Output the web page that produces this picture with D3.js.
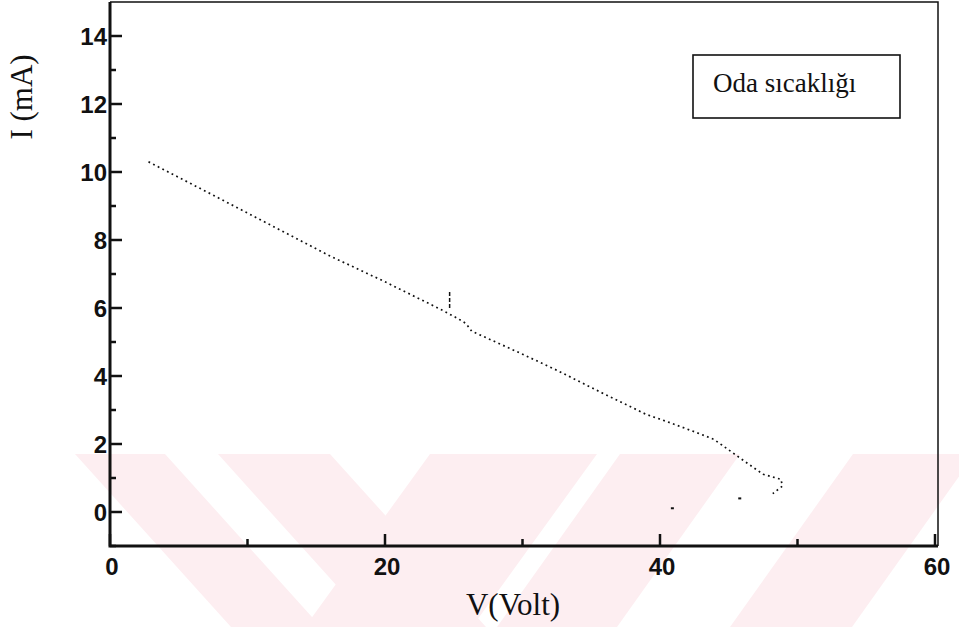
<!DOCTYPE html>
<html>
  <head>
    <meta charset="utf-8" />
    <style>
      body { margin: 0; background: #fff; }
      .tick-label { font-family: Arial, "Liberation Sans", sans-serif; font-weight: bold; font-size: 24px; fill: #111; }
      .axis-title { font-family: "Times New Roman", "Liberation Serif", serif; font-size: 31px; fill: #111; }
    </style>
  </head>
  <body>
    <svg class="chart"></svg>

    <script src="https://d3js.org/d3.v7.min.js"></script>
    <script>
      // measured I-V curve, room temperature
      var voltage = [2.8, 7.4, 15.0, 16.0, 19.9, 23.3, 24.0, 25.3, 25.9, 26.3, 29.9, 32.6,
                     35.4, 39.0, 40.5, 42.9, 43.9, 44.5, 46.3, 47.5, 48.8, 48.9, 48.2];
      var current = [10.30, 9.34, 7.74, 7.53, 6.79, 6.11, 5.97, 5.69, 5.54, 5.32, 4.66, 4.15,
                     3.58, 2.87, 2.66, 2.30, 2.14, 1.97, 1.45, 1.11, 0.96, 0.76, 0.54];

      // little spike around 24.7 V and stray points near the end
      var spikeV = [24.7, 24.7];
      var spikeI = [6.0, 6.5];
      var strayV = [45.8, 40.9];
      var strayI = [0.40, 0.11];

      var xTicks = [0, 20, 40, 60];
      var xMinor = [10, 30, 50];
      var yTicks = [0, 2, 4, 6, 8, 10, 12, 14];
      var yMinor = [-1, 1, 3, 5, 7, 9, 11, 13];

      var legendText = "Oda sıcaklığı";
      var xTitle = "V(Volt)";
      var yTitle = "I (mA)";

      // background watermark stripes: [top x0, top x1, bottom x0, bottom x1]
      var watermark = [
        [75, 165, 231, 321],
        [218, 330, 374, 486],
        [430, 597, 305, 472],
        [620, 740, 497, 617],
        [853, 975, 730, 852]
      ];

      var width = 959,
        height = 627;

      var x = d3.scaleLinear().domain([0, 60]).range([110, 935]);
      var y = d3.scaleLinear().domain([-1, 15]).range([546, 2]);

      var svg = d3.select(".chart").attr("width", width).attr("height", height);

      // watermark
      svg.append("g")
        .selectAll("polygon")
        .data(watermark)
        .enter()
        .append("polygon")
        .attr("points", function (d) {
          return [[d[0], 454], [d[1], 454], [d[3], height], [d[2], height]].join(" ");
        })
        .attr("fill", "#fdeef1");

      var x0 = x(0),
        x1 = x(60) + 3,
        y0 = y(-1),
        y1 = y(15);

      // thin frame on top and right
      svg.append("path")
        .attr("d", "M" + x0 + "," + y1 + "H" + x1 + "V" + y0)
        .attr("fill", "none")
        .attr("stroke", "#111")
        .attr("stroke-width", 1.5);

      // heavy left and bottom axes
      svg.append("path")
        .attr("d", "M" + x0 + "," + y1 + "V" + y0 + "H" + x1)
        .attr("fill", "none")
        .attr("stroke", "#111")
        .attr("stroke-width", 3);

      // y ticks (inward)
      svg.append("g")
        .selectAll("line")
        .data(yTicks)
        .enter()
        .append("line")
        .attr("x1", x0)
        .attr("x2", x0 + 12)
        .attr("y1", function (d) { return y(d); })
        .attr("y2", function (d) { return y(d); })
        .attr("stroke", "#111")
        .attr("stroke-width", 2.5);

      svg.append("g")
        .selectAll("line")
        .data(yMinor)
        .enter()
        .append("line")
        .attr("x1", x0)
        .attr("x2", x0 + 6)
        .attr("y1", function (d) { return y(d); })
        .attr("y2", function (d) { return y(d); })
        .attr("stroke", "#111")
        .attr("stroke-width", 2.5);

      svg.append("g")
        .selectAll("text")
        .data(yTicks)
        .enter()
        .append("text")
        .attr("class", "tick-label")
        .attr("x", x0 - 3)
        .attr("y", function (d) { return y(d); })
        .attr("dy", "0.36em")
        .attr("text-anchor", "end")
        .text(function (d) { return d; });

      // x ticks (inward, up from bottom axis)
      svg.append("g")
        .selectAll("line")
        .data(xTicks)
        .enter()
        .append("line")
        .attr("x1", function (d) { return x(d); })
        .attr("x2", function (d) { return x(d); })
        .attr("y1", y0)
        .attr("y2", y0 - 12)
        .attr("stroke", "#111")
        .attr("stroke-width", 2.5);

      svg.append("g")
        .selectAll("line")
        .data(xMinor)
        .enter()
        .append("line")
        .attr("x1", function (d) { return x(d); })
        .attr("x2", function (d) { return x(d); })
        .attr("y1", y0)
        .attr("y2", y0 - 7)
        .attr("stroke", "#111")
        .attr("stroke-width", 2.5);

      svg.append("g")
        .selectAll("text")
        .data(xTicks)
        .enter()
        .append("text")
        .attr("class", "tick-label")
        .attr("x", function (d) { return x(d) + 2; })
        .attr("y", y0 + 29)
        .attr("text-anchor", "middle")
        .text(function (d) { return d; });

      // axis titles
      svg.append("text")
        .attr("class", "axis-title")
        .attr("x", 513)
        .attr("y", 615)
        .attr("text-anchor", "middle")
        .text(xTitle);

      svg.append("text")
        .attr("class", "axis-title")
        .attr("transform", "translate(32,97) rotate(-90)")
        .attr("text-anchor", "middle")
        .text(yTitle);

      // dotted data line
      var pts = voltage.map(function (v, i) { return [v, current[i]]; });
      var line = d3.line()
        .x(function (d) { return x(d[0]); })
        .y(function (d) { return y(d[1]); });

      svg.append("path")
        .datum(pts)
        .attr("d", line)
        .attr("fill", "none")
        .attr("stroke", "#111")
        .attr("stroke-width", 1.7)
        .attr("stroke-dasharray", "1.8,3.4");

      svg.append("path")
        .datum(spikeV.map(function (v, i) { return [v, spikeI[i]]; }))
        .attr("d", line)
        .attr("fill", "none")
        .attr("stroke", "#111")
        .attr("stroke-width", 1.5)
        .attr("stroke-dasharray", "4,2");

      svg.append("g")
        .selectAll("rect")
        .data(strayV)
        .enter()
        .append("rect")
        .attr("x", function (d) { return x(d) - 1.5; })
        .attr("y", function (d, i) { return y(strayI[i]) - 1; })
        .attr("width", 3)
        .attr("height", 2)
        .attr("fill", "#111");

      // legend box
      var legend = svg.append("g").attr("transform", "translate(693,55)");
      legend.append("rect")
        .attr("width", 207)
        .attr("height", 63)
        .attr("fill", "#fff")
        .attr("stroke", "#111")
        .attr("stroke-width", 1.6);
      legend.append("text")
        .attr("x", 20)
        .attr("y", 37)
        .attr("font-family", "'Times New Roman', 'Liberation Serif', serif")
        .attr("font-size", "27px")
        .attr("fill", "#111")
        .text(legendText);
    </script>
  </body>
</html>
